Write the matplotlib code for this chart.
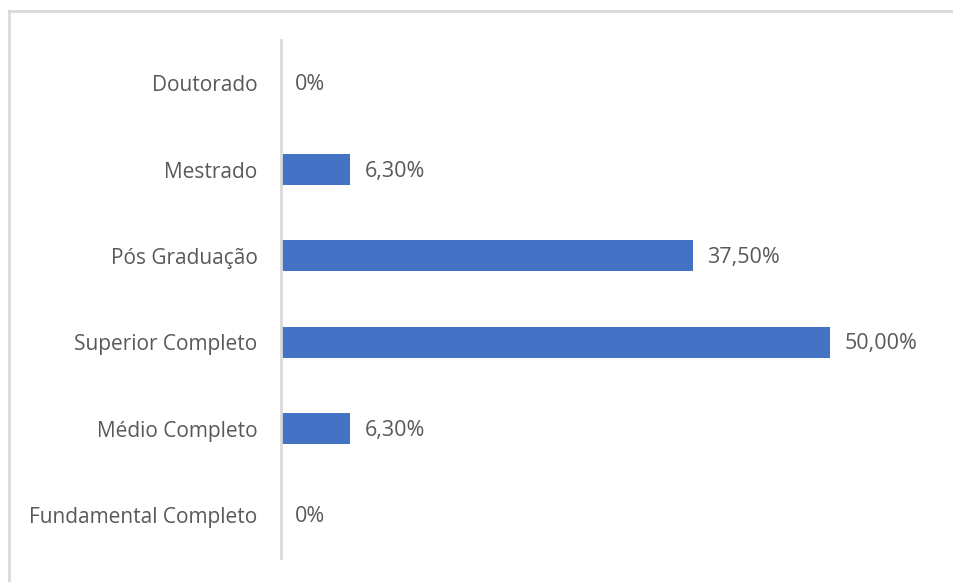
import matplotlib.pyplot as plt
from matplotlib.lines import Line2D

# Dados do gráfico (de baixo para cima)
categorias = ['Fundamental Completo', 'Médio Completo', 'Superior Completo',
              'Pós Graduação', 'Mestrado', 'Doutorado']
valores = [0, 6.3, 50.0, 37.5, 6.3, 0]
rotulos = ['0%', '6,30%', '50,00%', '37,50%', '6,30%', '0%']

plt.rcParams['font.family'] = ['Open Sans', 'DejaVu Sans']

fig = plt.figure(figsize=(9.54, 5.82), dpi=100)
ax = fig.add_axes([281 / 954, 24 / 582, 615 / 954, 518 / 582])

pos = range(len(categorias))
ax.barh(pos, valores, height=0.36, color='#4472C4')

for p, v, r in zip(pos, valores, rotulos):
    ax.text(v + 1.3, p - 0.02, r, va='center', ha='left', fontsize=15.5, color='#595959')

ax.set_yticks(list(pos))
ax.set_yticklabels(categorias, fontsize=15, color='#595959')
ax.tick_params(axis='y', length=0, pad=17)
ax.set_xticks([])
ax.set_xlim(0, 56)
ax.set_ylim(-0.5, len(categorias) - 0.5)

for s in ['top', 'right', 'bottom']:
    ax.spines[s].set_visible(False)
ax.spines['left'].set_color('#d9d9d9')
ax.spines['left'].set_linewidth(2)

# Moldura cinza do gráfico
borda = dict(color='#d9d9d9', linewidth=2, transform=fig.transFigure)
fig.add_artist(Line2D([9 / 954, 1.0], [1 - 11 / 582, 1 - 11 / 582], **borda))
fig.add_artist(Line2D([9 / 954, 9 / 954], [0, 1 - 11 / 582], **borda))

fig.savefig('out.png', dpi=100)
